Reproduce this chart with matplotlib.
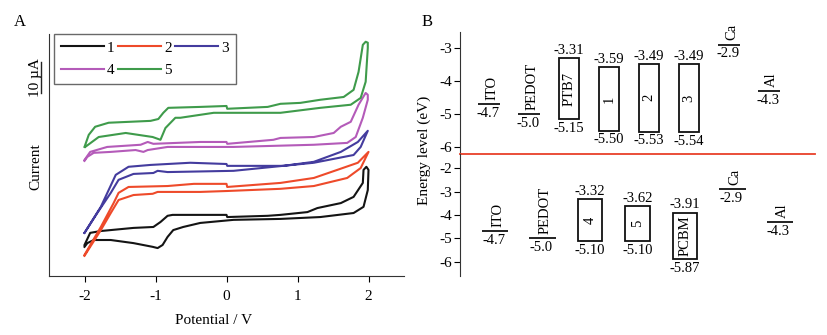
import numpy as np
import matplotlib
matplotlib.use('Agg')
import matplotlib.pyplot as plt
from matplotlib.patches import Rectangle

plt.rcParams['font.family'] = ['Liberation Serif', 'DejaVu Serif']
plt.rcParams['font.size'] = 11
plt.rcParams['axes.unicode_minus'] = False

# ---- panel A: cyclic voltammograms (potential in V, current in uA) ----
v1 = [-2.00, -1.92, -1.77, -1.31, -1.03, -0.93, -0.83, -0.76, -0.37, 0.00, 0.01, 0.58, 0.76, 1.14, 1.28,
      1.61, 1.79, 1.92, 1.93, 1.97, 2.00, 1.99, 1.93, 1.79, 1.32, 0.76, 0.10, -0.37, -0.61, -0.75, -0.83,
      -0.90, -0.97, -1.04, -1.31, -1.63, -1.87, -1.96, -2.00]
i1 = [10.0, 13.9, 14.5, 15.5, 15.8, 17.4, 19.4, 19.7, 19.7, 19.7, 19.0, 19.4, 19.7, 20.6, 21.9,
      23.5, 25.5, 30.0, 34.2, 35.2, 34.2, 27.7, 22.3, 20.3, 19.0, 18.4, 18.1, 17.1, 15.8, 14.8, 12.6,
      10.0, 9.0, 9.4, 10.6, 11.6, 11.6, 10.6, 9.4]

v2 = [-2.00, -1.77, -1.59, -1.52, -1.38, -0.83, -0.46, 0.00, 0.01, 0.76, 1.23, 1.56, 1.85, 2.00,
      1.89, 1.70, 1.23, 0.76, 0.01, -0.37, -0.97, -1.04, -1.31, -1.52, -1.63, -1.77, -1.92, -2.00]
i2 = [6.8, 15.8, 23.5, 26.8, 28.7, 29.0, 29.7, 29.7, 28.7, 30.0, 31.6, 34.2, 36.5, 40.0,
      34.8, 31.6, 29.0, 28.1, 27.4, 27.1, 27.1, 26.5, 26.1, 24.5, 20.3, 14.8, 9.4, 6.5]

v3 = [-2.00, -1.77, -1.56, -1.38, -1.07, -0.51, 0.00, 0.01, 0.80, 1.23, 1.61, 1.85, 1.99,
      1.89, 1.79, 1.23, 0.10, -0.83, -0.97, -1.03, -1.31, -1.52, -1.63, -1.82, -2.00]
i3 = [13.9, 22.3, 32.6, 35.2, 35.8, 36.5, 36.1, 35.5, 35.5, 36.8, 40.0, 43.2, 46.8,
      41.6, 39.0, 36.5, 33.9, 33.5, 33.9, 33.2, 32.9, 31.0, 26.8, 20.3, 13.9]

v4 = [-2.00, -1.92, -1.68, -1.21, -1.11, -1.03, -0.37, 0.00, 0.01, 0.66, 0.76, 1.23, 1.51, 1.61, 1.75,
      1.86, 1.96, 1.99, 1.99, 1.92, 1.82, 1.70, 1.23, 0.10, -0.83, -1.11, -1.17, -1.28, -1.63, -1.87,
      -1.96, -2.00]
i4 = [37.4, 40.0, 41.6, 42.3, 43.2, 42.6, 43.2, 43.2, 42.6, 43.9, 44.5, 44.8, 46.1, 48.1, 49.7,
      55.2, 59.0, 58.4, 56.8, 51.0, 44.8, 42.9, 42.3, 41.6, 41.6, 40.6, 40.0, 40.6, 40.0, 39.7,
      38.4, 37.1]

v5 = [-2.00, -1.94, -1.85, -1.66, -1.07, -0.96, -0.89, -0.82, -0.37, 0.00, 0.01, 0.58, 0.76, 1.04, 1.32,
      1.65, 1.79, 1.86, 1.92, 1.96, 1.99, 1.99, 1.96, 1.89, 1.75, 1.32, 0.76, -0.18, -0.65, -0.72,
      -0.86, -0.93, -1.04, -1.42, -1.80, -1.99]
i5 = [41.6, 45.5, 48.1, 49.4, 50.0, 50.6, 52.6, 54.2, 54.5, 54.8, 53.9, 54.5, 55.5, 55.8, 56.8,
      57.7, 60.0, 65.8, 74.5, 75.5, 75.2, 73.5, 62.6, 57.4, 55.2, 54.2, 52.6, 52.6, 51.0, 51.0,
      47.7, 43.9, 44.8, 46.1, 44.8, 41.6]

cv_labels = ['1', '2', '3', '4', '5']
cv_colors = ['#141414', '#ee4a2a', '#443c9e', '#b45bb9', '#3f9b4b']

# ---- panel B: energy levels (eV) ----
top_names = ['ITO', 'PEDOT', 'PTB7', '1', '2', '3', 'Ca', 'Al']
top_lumo = [None, None, -3.31, -3.59, -3.49, -3.49, None, None]
top_homo = [-4.7, -5.0, -5.15, -5.50, -5.53, -5.54, -2.9, -4.3]

bot_names = ['ITO', 'PEDOT', '4', '5', 'PCBM', 'Ca', 'Al']
bot_lumo = [None, None, -3.32, -3.62, -3.91, None, None]
bot_homo = [-4.7, -5.0, -5.10, -5.10, -5.87, -2.9, -4.3]

W, H = 827, 335
fig = plt.figure(figsize=(W / 100, H / 100), dpi=100)


def px_axes(l, t, r, b):
    return fig.add_axes([l / W, 1 - b / H, (r - l) / W, (b - t) / H])


# panel A
ax = px_axes(49, 34, 404, 276)
lines = []
for v, i, lab, c in zip([v1, v2, v3, v4, v5], [i1, i2, i3, i4, i5], cv_labels, cv_colors):
    ln, = ax.plot(v, i, color=c, lw=1.5, label=lab)
    lines.append(ln)
ax.set_xlim(-2.5, 2.5)
ax.set_ylim(0, 78)
ax.set_xticks([-2, -1, 0, 1, 2])
ax.set_yticks([])
ax.spines['top'].set_visible(False)
ax.spines['right'].set_visible(False)
ax.spines['left'].set_color('#333333')
ax.spines['bottom'].set_color('#333333')
ax.tick_params(axis='x', length=4, pad=6, labelsize=11)

# legend fills by column, so reorder to read 1 2 3 / 4 5 across rows
order = [0, 3, 1, 4, 2]
leg = ax.legend([lines[k] for k in order], [cv_labels[k] for k in order], ncol=3,
                loc='upper left', bbox_to_anchor=(0.014, 1.0), borderaxespad=0,
                handlelength=2.8, handletextpad=0.2, columnspacing=0.25, fontsize=11,
                frameon=True, fancybox=False, edgecolor='#444444', borderpad=0.45,
                labelspacing=0.6)
leg.get_frame().set_linewidth(1.0)

# 10 uA scale bar
ax.plot([-2.61, -2.61], [59, 69], color='#222222', lw=1.0, clip_on=False)
ax.text(-2.69, 64, '10 µA', rotation=90, ha='center', va='center', fontsize=11, clip_on=False)

fig.text(20 / W, 1 - 22 / H, 'A', ha='center', va='center', fontsize=12)
fig.text(36 / W, 1 - 167 / H, 'Current', rotation=90, ha='center', va='center', fontsize=11)
fig.text(214 / W, 1 - 320 / H, 'Potential / V', ha='center', va='center', fontsize=11)

# panel B
axt = px_axes(460, 32, 815, 154)
axb = px_axes(460, 154, 815, 276)
axt.set_xlim(-0.73, 8.15)
axt.set_ylim(-6.21, -2.52)
axb.set_xlim(-0.74, 6.74)
axb.set_ylim(-6.6, -1.40)
axt.set_yticks([-3, -4, -5, -6])
axb.set_yticks([-2, -3, -4, -5, -6])
for a in (axt, axb):
    a.set_xticks([])
    a.patch.set_visible(False)
    a.spines['top'].set_visible(False)
    a.spines['right'].set_visible(False)
    a.spines['left'].set_color('#333333')
    a.tick_params(axis='y', length=4, pad=2, labelsize=11)
axb.spines['bottom'].set_visible(False)
axt.spines['bottom'].set_color('#e8402a')
axt.spines['bottom'].set_linewidth(1.3)


def draw_levels(a, names, lumo, homo, bw, fs=10.5):
    for k, (n, lu, ho) in enumerate(zip(names, lumo, homo)):
        if lu is None:
            a.hlines(ho, k - bw / 2 - 0.02, k + bw / 2 + 0.02, color='#111111', lw=1.3)
            a.annotate(n, (k, ho), xytext=(2, 3), textcoords='offset points', rotation=90,
                       ha='center', va='bottom', fontsize=fs)
            a.annotate('%.1f' % ho, (k, ho), xytext=(-1, -2), textcoords='offset points',
                       ha='center', va='top', fontsize=fs)
        else:
            a.add_patch(Rectangle((k - bw / 2, ho), bw, lu - ho, fill=False,
                                  edgecolor='#111111', lw=1.3))
            a.text(k, (lu + ho) / 2, n, rotation=90, ha='center', va='center', fontsize=fs)
            a.annotate('%.2f' % lu, (k, lu), xytext=(0, 1), textcoords='offset points',
                       ha='center', va='bottom', fontsize=fs)
            a.annotate('%.2f' % ho, (k, ho), xytext=(0, -2), textcoords='offset points',
                       ha='center', va='top', fontsize=fs)


draw_levels(axt, top_names, top_lumo, top_homo, 0.5)
draw_levels(axb, bot_names, bot_lumo, bot_homo, 0.52)

fig.text(427 / W, 1 - 22 / H, 'B', ha='center', va='center', fontsize=12)
fig.text(424 / W, 1 - 150 / H, 'Energy level (eV)', rotation=90, ha='center', va='center', fontsize=11)

fig.savefig('out.png', dpi=100)
